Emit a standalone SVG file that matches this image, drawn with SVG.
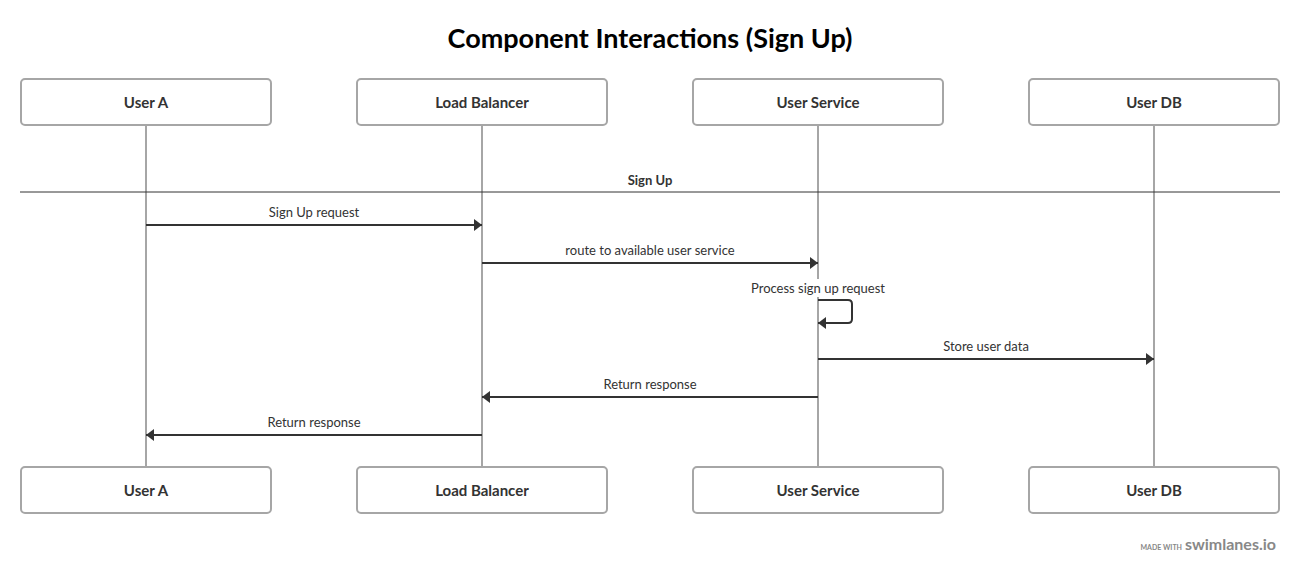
<svg xmlns="http://www.w3.org/2000/svg" width="1300" height="574" viewBox="0 0 1300 574">
<style>
  .box { fill: #ffffff; stroke: #a6a6a6; stroke-width: 2; }
  .blabel { font-family: Lato, "Open Sans", sans-serif; font-weight: bold; font-size: 15px; fill: #333333; text-anchor: middle; }
  .life { stroke: #a6a6a6; stroke-width: 2; fill: none; }
  .msg { stroke: #333333; stroke-width: 2; fill: none; }
  .mlabel { font-family: Lato, "Open Sans", sans-serif; font-size: 13px; fill: #333333; text-anchor: middle; }
  .title { font-family: Lato, "Open Sans", sans-serif; font-weight: bold; font-size: 27px; fill: #000000; text-anchor: middle; }
</style>
<defs>
  <marker id="ah" viewBox="0 0 8 12" refX="8" refY="6" markerWidth="8" markerHeight="12" markerUnits="userSpaceOnUse" orient="auto">
    <path d="M0,0 L8,6 L0,12 Z" fill="#333333"/>
  </marker>
</defs>
<rect x="0" y="0" width="1300" height="574" fill="#ffffff"/>
<text class="title" x="650" y="48">Component Interactions (Sign Up)</text>

<g id="lifelines">
  <line class="life" x1="146" y1="125" x2="146" y2="467"/>
  <line class="life" x1="482" y1="125" x2="482" y2="467"/>
  <line class="life" x1="818" y1="125" x2="818" y2="467"/>
  <line class="life" x1="1154" y1="125" x2="1154" y2="467"/>
</g>

<g id="node-usera-top"><rect class="box" x="21" y="79" width="250" height="46" rx="4"/><text class="blabel" x="146" y="108">User A</text></g>
<g id="node-lb-top"><rect class="box" x="357" y="79" width="250" height="46" rx="4"/><text class="blabel" x="482" y="108">Load Balancer</text></g>
<g id="node-us-top"><rect class="box" x="693" y="79" width="250" height="46" rx="4"/><text class="blabel" x="818" y="108">User Service</text></g>
<g id="node-db-top"><rect class="box" x="1029" y="79" width="250" height="46" rx="4"/><text class="blabel" x="1154" y="108">User DB</text></g>

<g id="node-usera-bottom"><rect class="box" x="21" y="467" width="250" height="46" rx="4"/><text class="blabel" x="146" y="496">User A</text></g>
<g id="node-lb-bottom"><rect class="box" x="357" y="467" width="250" height="46" rx="4"/><text class="blabel" x="482" y="496">Load Balancer</text></g>
<g id="node-us-bottom"><rect class="box" x="693" y="467" width="250" height="46" rx="4"/><text class="blabel" x="818" y="496">User Service</text></g>
<g id="node-db-bottom"><rect class="box" x="1029" y="467" width="250" height="46" rx="4"/><text class="blabel" x="1154" y="496">User DB</text></g>

<g id="section">
  <line x1="20" y1="192" x2="1280" y2="192" stroke="#333333" stroke-width="1"/>
  <text x="650" y="185" font-family="Lato, 'Open Sans', sans-serif" font-weight="bold" font-size="13" fill="#333333" text-anchor="middle">Sign Up</text>
</g>

<g id="connectors">
  <line class="msg" x1="146" y1="225" x2="482" y2="225" marker-end="url(#ah)"/>
  <text class="mlabel" x="314" y="217">Sign Up request</text>

  <line class="msg" x1="482" y1="263" x2="818" y2="263" marker-end="url(#ah)"/>
  <text class="mlabel" x="650" y="255">route to available user service</text>

  <rect x="748" y="279" width="140" height="18" fill="#ffffff"/>
  <text class="mlabel" x="818" y="293">Process sign up request</text>
  <path class="msg" d="M818,300 H848 Q852,300 852,304 V319 Q852,323 848,323 H818" marker-end="url(#ah)"/>

  <line class="msg" x1="818" y1="359" x2="1154" y2="359" marker-end="url(#ah)"/>
  <text class="mlabel" x="986" y="351">Store user data</text>

  <line class="msg" x1="818" y1="397" x2="482" y2="397" marker-end="url(#ah)"/>
  <text class="mlabel" x="650" y="389">Return response</text>

  <line class="msg" x1="482" y1="435" x2="146" y2="435" marker-end="url(#ah)"/>
  <text class="mlabel" x="314" y="427">Return response</text>
</g>

<g id="watermark">
  <text x="1182" y="550" font-family="Lato, 'Open Sans', sans-serif" font-size="7" font-weight="bold" fill="#888888" text-anchor="end">MADE WITH</text>
  <text x="1276" y="550" font-family="Lato, 'Open Sans', sans-serif" font-size="16" font-weight="bold" fill="#888888" text-anchor="end">swimlanes.io</text>
</g>
</svg>
